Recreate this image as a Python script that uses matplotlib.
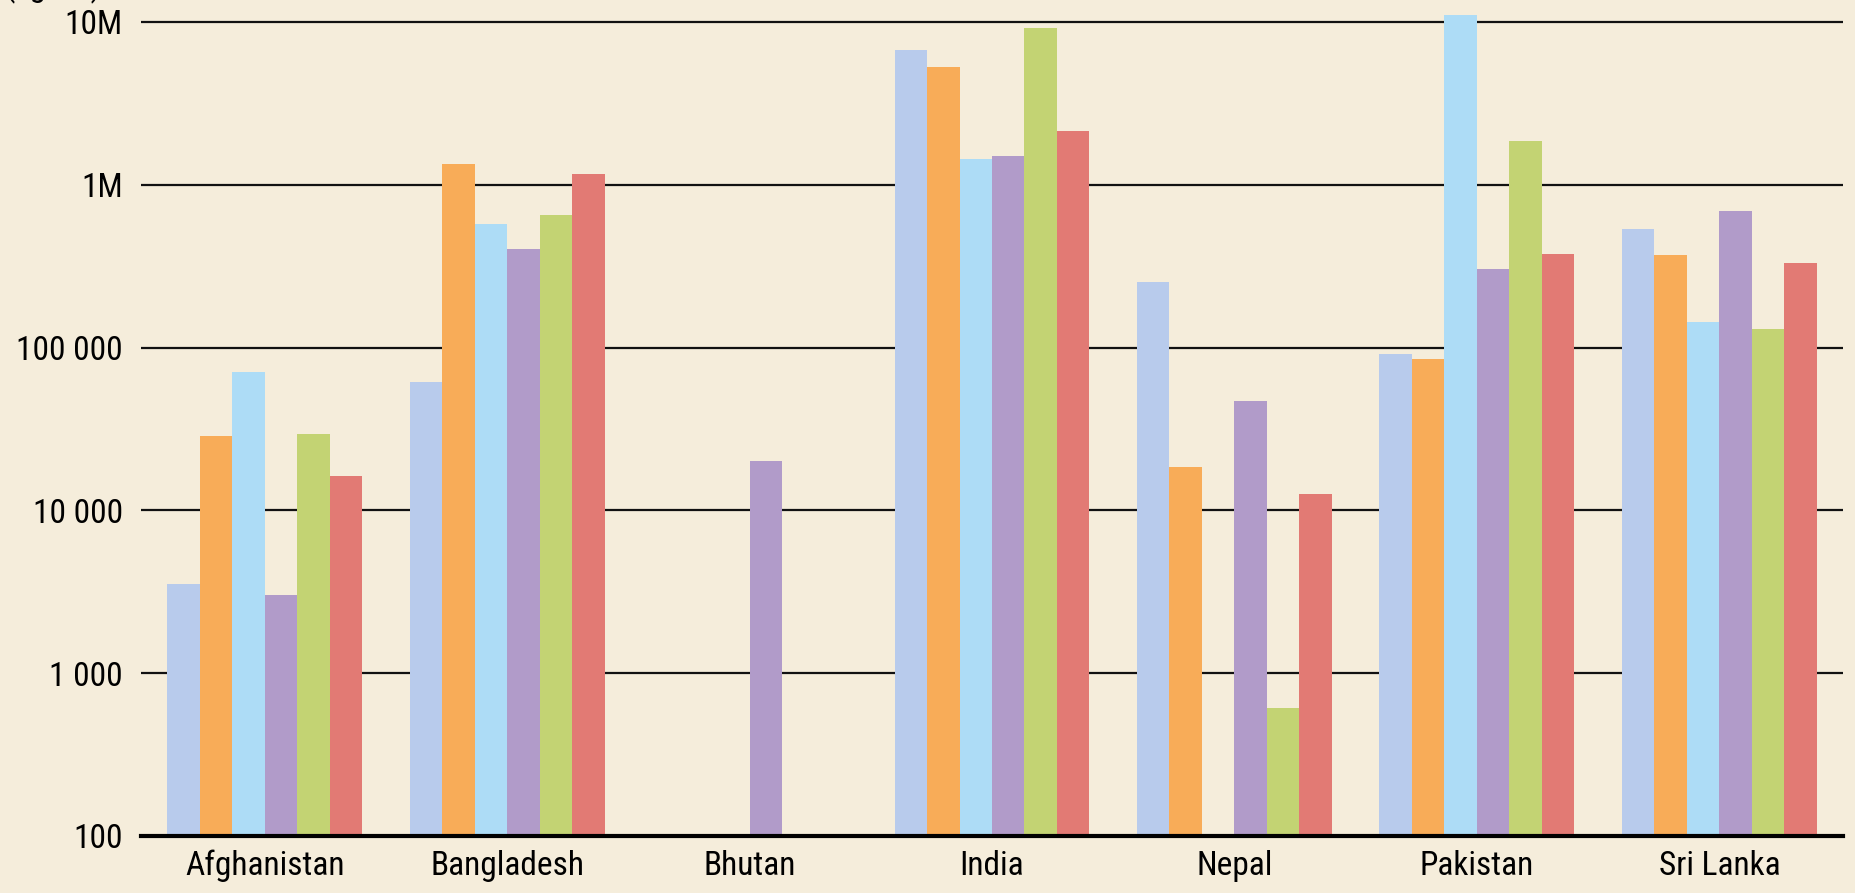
"""Grouped log-scale bar chart, South Asian countries."""

import matplotlib
matplotlib.use("Agg")
import matplotlib.pyplot as plt
from matplotlib import font_manager
import numpy as np

countries = ["Afghanistan", "Bangladesh", "Bhutan", "India", "Nepal", "Pakistan", "Sri Lanka"]

# six series per country, nan = no bar
series_a = [3530, 61800, np.nan, 6.7e6, 252000, 90800, 535000]
series_b = [28600, 1.34e6, np.nan, 5.3e6, 18500, 84900, 370000]
series_c = [70600, 571000, np.nan, 1.44e6, np.nan, 1.1e7, 143000]
series_d = [3040, 403000, 20100, 1.51e6, 47200, 303000, 687000]
series_e = [29600, 653000, np.nan, 9.2e6, 610, 1.87e6, 131000]
series_f = [16200, 1.17e6, np.nan, 2.14e6, 12600, 376000, 329000]

ytick_vals = [100, 1000, 10000, 100000, 1e6, 1e7]
ytick_labels = ["100", "1 000", "10 000", "100 000", "1M", "10M"]

colors = ["#B8CBEC", "#F8AC58", "#ADDCF6", "#B19BC9", "#C3D373", "#E27A74"]
bg = "#F5EDDB"

names = {f.name for f in font_manager.fontManager.ttflist}
print(sorted(n for n in names if "Condensed" in n or "Narrow" in n or "Roboto" in n))
plt.rcParams["font.family"] = ["Roboto Condensed", "Liberation Sans Narrow", "Roboto", "DejaVu Sans"]

fig = plt.figure(figsize=(18.55, 8.93), dpi=100, facecolor=bg)
ax = fig.add_axes([141 / 1855, 1 - 836 / 893, (1843 - 141) / 1855, 836 / 893])
ax.set_facecolor(bg)

all_series = [series_a, series_b, series_c, series_d, series_e, series_f]
x = np.arange(len(countries))
width = 0.134
for i, (vals, col) in enumerate(zip(all_series, colors)):
    offs = (i - 2.5) * width
    ax.bar(x + offs, np.array(vals) - 100, width=width, bottom=100, color=col,
           linewidth=0, zorder=3)

ax.set_yscale("log")
ax.set_ylim(100, 10 ** (7 + 22 / 162.8))
ax.set_xlim(-0.51, 6.51)

ax.set_yticks(ytick_vals)
ax.set_yticklabels(ytick_labels)
ax.yaxis.set_minor_locator(matplotlib.ticker.NullLocator())
ax.set_xticks(x)
ax.set_xticklabels(countries)
ax.tick_params(axis="both", length=0, labelsize=24)
ax.tick_params(axis="y", pad=13)
ax.tick_params(axis="x", pad=10)

for v in ytick_vals[1:]:
    ax.axhline(v, color="#111111", linewidth=1.6, zorder=2)

for side in ["top", "right", "left"]:
    ax.spines[side].set_visible(False)
ax.spines["bottom"].set_linewidth(3)
ax.spines["bottom"].set_color("black")
ax.spines["bottom"].set_zorder(4)

# unit label, mostly cut off by the top edge
fig.text(5 / 1855, 1 + 4 / 893, "(kg/ha)", fontsize=24, ha="left", va="baseline")

fig.savefig("out.png", dpi=100, facecolor=bg)
